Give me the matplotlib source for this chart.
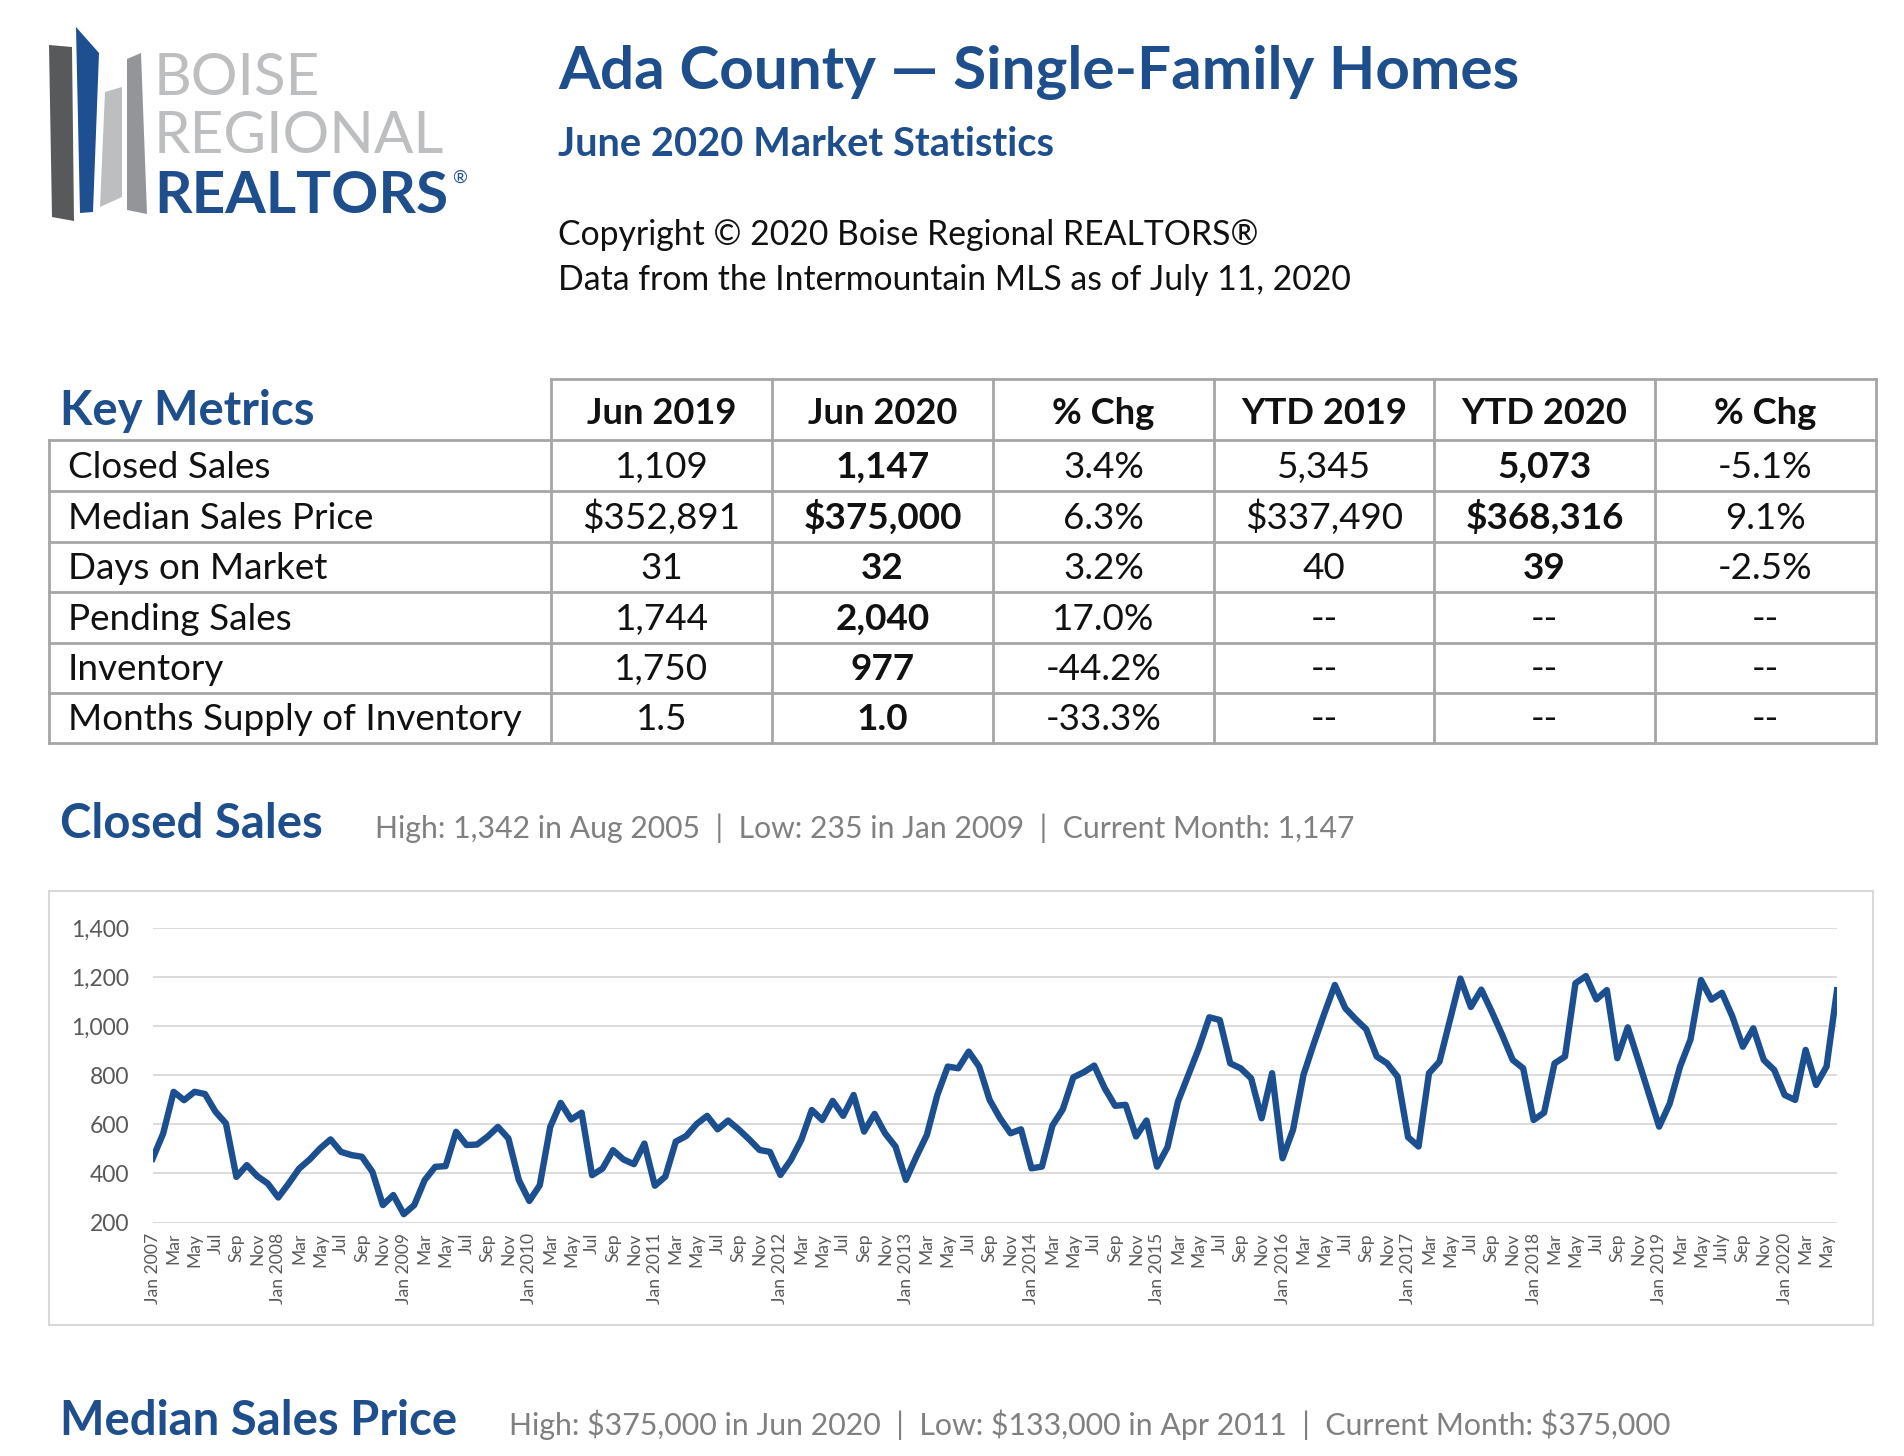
import matplotlib
matplotlib.use("Agg")
import matplotlib.pyplot as plt
from matplotlib.patches import Polygon, Rectangle
from matplotlib.lines import Line2D

plt.rcParams['font.family'] = ['Lato', 'DejaVu Sans']

# ---------------- data ----------------
title = "Ada County \u2014 Single-Family Homes"
subtitle = "June 2020 Market Statistics"
copyright_lines = ["Copyright \u00a9 2020 Boise Regional REALTORS\u00ae",
                   "Data from the Intermountain MLS as of July 11, 2020"]

table_columns = ["Jun 2019", "Jun 2020", "% Chg", "YTD 2019", "YTD 2020", "% Chg"]
metrics = ["Closed Sales", "Median Sales Price", "Days on Market",
           "Pending Sales", "Inventory", "Months Supply of Inventory"]
jun2019 = ["1,109", "$352,891", "31", "1,744", "1,750", "1.5"]
jun2020 = ["1,147", "$375,000", "32", "2,040", "977", "1.0"]
chg_month = ["3.4%", "6.3%", "3.2%", "17.0%", "-44.2%", "-33.3%"]
ytd2019 = ["5,345", "$337,490", "40", "--", "--", "--"]
ytd2020 = ["5,073", "$368,316", "39", "--", "--", "--"]
chg_ytd = ["-5.1%", "9.1%", "-2.5%", "--", "--", "--"]
bold_columns = [False, True, False, False, True, False]

closed_sales_stats = "High: 1,342 in Aug 2005  |  Low: 235 in Jan 2009  |  Current Month: 1,147"
median_price_stats = "High: $375,000 in Jun 2020  |  Low: $133,000 in Apr 2011  |  Current Month: $375,000"

start_year = 2007
month_abbr = ["Jan", "Feb", "Mar", "Apr", "May", "Jun", "Jul", "Aug", "Sep", "Oct", "Nov", "Dec"]

closed_2007 = [461, 563, 733, 699, 733, 724, 652, 604, 386, 434, 389, 359]
closed_2008 = [302, 359, 420, 457, 502, 539, 488, 475, 468, 407, 271, 312]
closed_2009 = [234, 271, 373, 427, 430, 570, 516, 518, 550, 590, 543, 373]
closed_2010 = [288, 352, 590, 688, 620, 648, 393, 420, 495, 457, 438, 522]
closed_2011 = [350, 387, 530, 553, 602, 635, 580, 616, 580, 540, 496, 488]
closed_2012 = [394, 455, 537, 659, 618, 696, 635, 720, 571, 643, 564, 510]
closed_2013 = [374, 469, 557, 720, 836, 829, 897, 836, 700, 625, 564, 580]
closed_2014 = [421, 428, 595, 662, 792, 813, 840, 748, 676, 680, 551, 616]
closed_2015 = [428, 507, 693, 802, 911, 1037, 1026, 849, 829, 788, 625, 809]
closed_2016 = [462, 578, 802, 931, 1053, 1169, 1074, 1029, 988, 877, 849, 795]
closed_2017 = [548, 510, 809, 856, 1026, 1195, 1079, 1150, 1060, 965, 863, 829]
closed_2018 = [618, 648, 849, 877, 1176, 1205, 1110, 1148, 870, 996, 863, 727]
closed_2019 = [591, 684, 836, 947, 1189, 1109, 1137, 1040, 917, 992, 863, 822]
closed_2020 = [720, 700, 904, 761, 836, 1147]

closed_sales = (closed_2007 + closed_2008 + closed_2009 + closed_2010 + closed_2011 +
                closed_2012 + closed_2013 + closed_2014 + closed_2015 + closed_2016 +
                closed_2017 + closed_2018 + closed_2019 + closed_2020)

y_ticks = [200, 400, 600, 800, 1000, 1200, 1400]

# ---------------- styling ----------------
BLUE = "#1f4e8d"
LINE_BLUE = "#1c4f8f"
W, H = 1904, 1456


def fx(x):
    return x / W


def fy(y):
    return 1 - y / H


fig = plt.figure(figsize=(W / 100, H / 100), dpi=100)
fig.patch.set_facecolor("white")


def ftext(x, y, s, **kw):
    kw.setdefault("va", "baseline")
    return fig.text(fx(x), fy(y), s, **kw)


def fpoly(pts, color):
    fig.add_artist(Polygon([(fx(a), fy(b)) for a, b in pts], closed=True,
                           transform=fig.transFigure, facecolor=color, edgecolor="none"))


def fline(x0, y0, x1, y1, color, lw):
    fig.add_artist(Line2D([fx(x0), fx(x1)], [fy(y0), fy(y1)], transform=fig.transFigure,
                          color=color, lw=lw, solid_capstyle="projecting"))


# ---------------- logo ----------------
fpoly([(49, 45), (72, 47), (74, 221), (52, 217)], "#58595b")
fpoly([(76, 27), (99, 53), (93, 212), (80, 213)], "#1d4f91")
fpoly([(105, 92), (122, 87), (122, 197), (100, 207)], "#bcbec0")
fpoly([(127, 59), (141, 53), (147, 214), (127, 210)], "#939598")
ftext(154, 95, "BOISE", fontsize=42, fontweight="normal", color="#bcbec0")
ftext(154, 153, "REGIONAL", fontsize=42, fontweight="normal", color="#bcbec0")
ftext(154, 213, "REALTORS", fontsize=42, fontweight="bold", color=BLUE)
ftext(452, 183, "\u00ae", fontsize=13, color=BLUE)

# ---------------- header ----------------
ftext(558, 89, title, fontsize=43.4, fontweight="bold", color=BLUE)
ftext(558, 156, subtitle, fontsize=28.7, fontweight="bold", color=BLUE)
ftext(558, 245, copyright_lines[0], fontsize=24.3, color="#111111")
ftext(558, 290, copyright_lines[1], fontsize=24.3, color="#111111")

# ---------------- table ----------------
col_x = [49, 551, 772, 993, 1214, 1434, 1655, 1876]
row_y = [379, 440, 491, 542, 592, 643, 693, 743]
BORDER = "#a6a6a6"
LW = 2.0

ftext(60, 425, "Key Metrics", fontsize=34, fontweight="bold", color=BLUE)

# horizontal borders
fline(col_x[1], row_y[0], col_x[-1], row_y[0], BORDER, LW)
for yy in row_y[1:]:
    fline(col_x[0], yy, col_x[-1], yy, BORDER, LW)
# vertical borders
fline(col_x[0], row_y[1], col_x[0], row_y[-1], BORDER, LW)
for xx in col_x[1:]:
    fline(xx, row_y[0], xx, row_y[-1], BORDER, LW)

HEAD_FS = 26.2
TABLE_FS = 26.6
for j, name in enumerate(table_columns):
    cx = (col_x[j + 1] + col_x[j + 2]) / 2
    ftext(cx, row_y[1] - 16, name, fontsize=HEAD_FS, fontweight="bold",
          color="#111111", ha="center")

columns_data = [jun2019, jun2020, chg_month, ytd2019, ytd2020, chg_ytd]
for i, name in enumerate(metrics):
    base = row_y[i + 2] - 13
    ftext(68, base, name, fontsize=TABLE_FS, color="#111111")
    for j, col in enumerate(columns_data):
        cx = (col_x[j + 1] + col_x[j + 2]) / 2
        val = col[i]
        is_bold = bold_columns[j] and val != "--"
        ftext(cx, base, val, fontsize=TABLE_FS, color="#111111", ha="center",
              fontweight="bold" if is_bold else "normal")

# ---------------- closed sales section ----------------
ftext(60, 838, "Closed Sales", fontsize=34, fontweight="bold", color=BLUE)
ftext(375, 838, closed_sales_stats, fontsize=21.7, color="#808080")

fig.add_artist(Rectangle((fx(49), fy(1325)), fx(1873) - fx(49), fy(891) - fy(1325),
                         transform=fig.transFigure, facecolor="white",
                         edgecolor="#d9d9d9", lw=1.5, zorder=-5))

ax_left, ax_right = 152.7, 1837
ax_top, ax_bottom = 928.3, 1222.5
ax = fig.add_axes([fx(ax_left), fy(ax_bottom), (ax_right - ax_left) / W, (ax_bottom - ax_top) / H])
ax.set_zorder(5)
ax.set_facecolor("none")

x = list(range(len(closed_sales)))
ax.plot(x, closed_sales, color=LINE_BLUE, lw=4.6, solid_joinstyle="round", zorder=3)
ax.set_xlim(0, len(closed_sales) - 1)
ax.set_ylim(y_ticks[0], y_ticks[-1])
ax.set_yticks(y_ticks)
ax.set_yticklabels([f"{v:,}" for v in y_ticks])
ax.yaxis.grid(True, color="#d9d9d9", lw=1.3)
ax.set_axisbelow(True)
for sp in ax.spines.values():
    sp.set_visible(False)

tick_pos = []
tick_lab = []
for i in range(len(closed_sales)):
    if i % 2 == 0:
        yr = start_year + i // 12
        m = i % 12
        if m == 0:
            lab = f"Jan {yr}"
        elif yr == 2019 and m == 6:
            lab = "July"
        else:
            lab = month_abbr[m]
        tick_pos.append(i)
        tick_lab.append(lab)
ax.set_xticks(tick_pos)
ax.set_xticklabels(tick_lab, rotation=90, va="top", ha="center")
ax.tick_params(axis="x", length=0, pad=7.5, labelsize=12.6, labelcolor="#595959")
ax.tick_params(axis="y", length=0, pad=17, labelsize=16.5, labelcolor="#595959")

# ---------------- median price section header ----------------
ftext(60, 1435, "Median Sales Price", fontsize=34, fontweight="bold", color=BLUE)
ftext(509, 1435, median_price_stats, fontsize=21.8, color="#808080")

fig.savefig("out.png", dpi=100, facecolor="white")
